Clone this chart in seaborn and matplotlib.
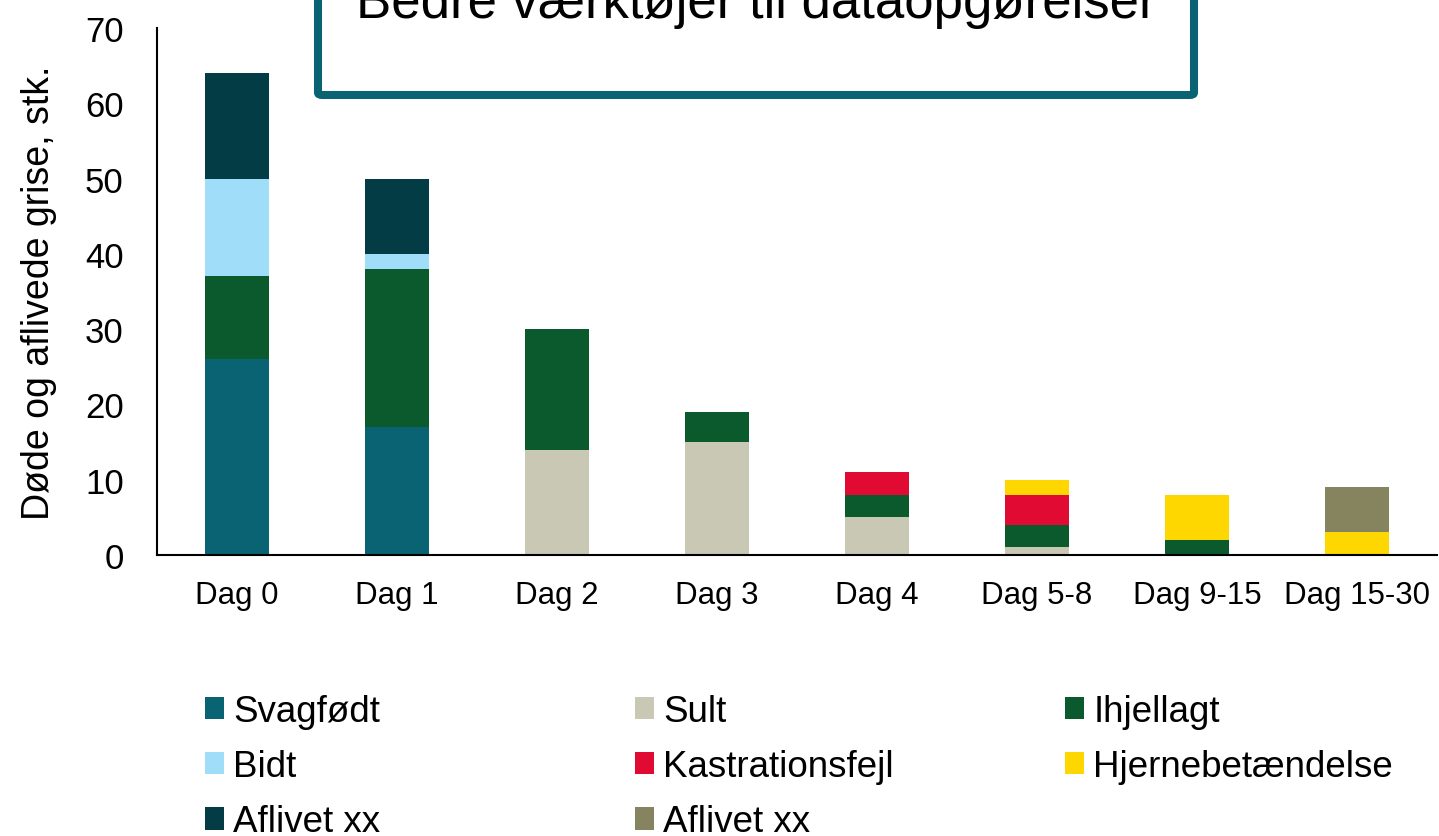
import matplotlib
matplotlib.use("Agg")
import numpy as np
import pandas as pd
import matplotlib.pyplot as plt
import seaborn as sns
from matplotlib.patches import Patch, FancyBboxPatch

sns.set_style("white")
plt.rcParams['font.family'] = ['Liberation Sans', 'DejaVu Sans']
plt.rcParams['text.color'] = 'black'
plt.rcParams['axes.labelcolor'] = 'black'
plt.rcParams['xtick.color'] = 'black'
plt.rcParams['ytick.color'] = 'black'

# data
days = ['Dag 0', 'Dag 1', 'Dag 2', 'Dag 3', 'Dag 4', 'Dag 5-8', 'Dag 9-15', 'Dag 15-30']
svagfoedt = [26, 17, 0, 0, 0, 0, 0, 0]
sult = [0, 0, 14, 15, 5, 1, 0, 0]
ihjellagt = [11, 21, 16, 4, 3, 3, 2, 0]
bidt = [13, 2, 0, 0, 0, 0, 0, 0]
kastration = [0, 0, 0, 0, 3, 4, 0, 0]
hjerne = [0, 0, 0, 0, 0, 2, 6, 3]
aflivet_a = [14, 10, 0, 0, 0, 0, 0, 0]
aflivet_b = [0, 0, 0, 0, 0, 0, 0, 6]

series_names = ['Svagfødt', 'Sult', 'Ihjellagt', 'Bidt', 'Kastrationsfejl',
                'Hjernebetændelse', 'Aflivet xx', 'Aflivet xx']
series_vals = [svagfoedt, sult, ihjellagt, bidt, kastration, hjerne, aflivet_a, aflivet_b]
colors = ['#0A6372', '#C8C8B4', '#0B5A2E', '#9FDDF8', '#E00A32',
          '#FFD700', '#043C46', '#85845F']

df = pd.DataFrame(dict(zip(range(len(series_vals)), series_vals)), index=days)
cum = df.cumsum(axis=1)

fig = plt.figure(figsize=(14.39, 8.37), dpi=100)
ax = fig.add_axes([157/1439, 1 - 556/837, 1280/1439, 527/837])

# draw from top of the stack downwards so lower segments cover the upper ones
for i in reversed(range(len(series_vals))):
    sns.barplot(x=days, y=cum[i].values, color=colors[i], width=0.4,
                linewidth=0, saturation=1, ax=ax)

ax.set_ylim(0, 70)
ax.set_xlim(-0.5, 7.5)
ax.set_yticks(range(0, 71, 10))
ax.tick_params(axis='y', labelsize=25, length=0, pad=24)
ax.tick_params(axis='x', labelsize=22.5, length=0, pad=18)
ax.set_ylabel('Døde og aflivede grise, stk.', fontsize=27, labelpad=20)
sns.despine(ax=ax, top=True, right=True)
for s in ['left', 'bottom']:
    ax.spines[s].set_color('black')
    ax.spines[s].set_linewidth(1.5)

# legend: three columns
handles = [Patch(facecolor=c, edgecolor='none') for c in colors]
cols = [[0, 3, 6], [1, 4, 7], [2, 5]]
xs = [205/1439, 635/1439, 1065/1439]
for col, x in zip(cols, xs):
    fig.legend([handles[i] for i in col], [series_names[i] for i in col],
               loc='upper left', bbox_to_anchor=(x, 1 - 695/837),
               frameon=False, fontsize=26.5, handlelength=0.52, handleheight=0.55,
               handletextpad=0.25, labelspacing=0.55, borderpad=0, borderaxespad=0)

# title box at top
box = FancyBboxPatch((318/1439, 1 - 96/837), 876/1439, 0.2,
                     boxstyle='round,pad=0,rounding_size=0.003',
                     transform=fig.transFigure, facecolor='white',
                     edgecolor='#0A6372', linewidth=5.8, clip_on=False)
fig.patches.append(box)
fig.text(756/1439, 1 - 18/837, 'Bedre værktøjer til dataopgørelser', fontsize=38,
         ha='center', va='baseline')

fig.savefig('out.png', dpi=100)
